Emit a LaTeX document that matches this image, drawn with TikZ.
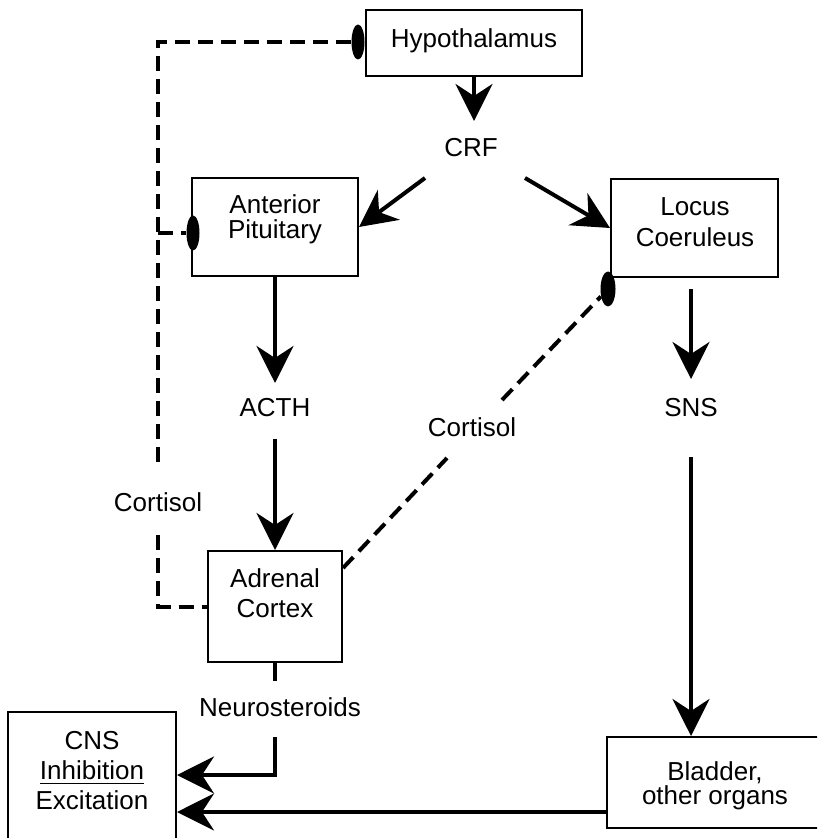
\documentclass[tikz,border=0pt]{standalone}
\usepackage{fontspec}
\setmainfont{Liberation Sans}
\usetikzlibrary{arrows.meta,shapes.geometric,calc}
\begin{document}
\begin{tikzpicture}[x=0.5pt,y=-0.5pt,
  box/.style={draw, line width=1pt, rectangle, inner sep=0pt},
  lbl/.style={font=\fontsize{13}{15}\selectfont, align=center, inner sep=0pt},
  arr/.style={line width=2pt, -{Stealth[length=18.5pt,width=18.5pt,inset=6pt]}},
  fb/.style={line width=2pt, dash pattern=on 7.5pt off 4pt},
  blob/.style={ellipse, fill=black, inner sep=0pt, minimum width=6.5pt, minimum height=17.5pt},
]
\useasboundingbox (0,0) rectangle (817,838);
\clip (0,0) rectangle (817,838);
\fill[white] (0,0) rectangle (817,838);

% boxes
\node[box, minimum width=108pt, minimum height=33pt] (hyp) at (474,43) {};
\node[box, minimum width=83pt, minimum height=49pt] (ant) at (275,227) {};
\node[box, minimum width=83.5pt, minimum height=49pt] (loc) at (694.5,228) {};
\node[box, minimum width=67pt, minimum height=55.5pt] (adr) at (275,606.5) {};
\node[box, minimum width=111.5pt, minimum height=45.5pt] (bla) at (718.5,782.5) {};
\node[box, minimum width=84pt, minimum height=74pt] (cns) at (92,786) {};

% texts
\node[lbl] (hypt) at (474,41) {Hypothalamus};
\node[lbl] (crf) at (471,148) {CRF};
\node[lbl, font=\fontsize{13}{12.5}\selectfont] (antt) at (275,219) {Anterior\\Pituitary};
\node[lbl, font=\fontsize{13}{15.5}\selectfont] (loct) at (695,222) {Locus\\Coeruleus};
\node[lbl] (acth) at (275,408) {ACTH};
\node[lbl] (sns) at (691,408) {SNS};
\node[lbl] (adrt) at (275,593) {Adrenal\\Cortex};
\node[lbl] (neu) at (280,707) {Neurosteroids};
\node[lbl] (cnst) at (92,771) {CNS\\\underline{Inhibition}\\Excitation};
\node[lbl, font=\fontsize{13}{11}\selectfont] (blat) at (715,786) {Bladder,\\other organs};
\node[lbl] (cortL) at (158,502) {Cortisol};
\node[lbl] (cortM) at (472,427) {Cortisol};

% solid arrows
\draw[arr] (hyp.south) -- ++(0,44);
\draw[arr] ($(crf.center)+(-46,30)$) -- (ant.east);
\draw[arr] ($(crf.center)+(54,30)$) -- (loc.west);
\draw[arr] (ant.south) -- ++(0,106);
\draw[arr] ($(acth.center)+(0,31)$) -- (adr.north);
\draw[arr] ($(loc.south)+(-3.5,11)$) -- ++(0,90);
\draw[arr] ($(sns.center)+(0,49)$) -- (sns |- bla.north);
\draw[line width=2pt] (adr.south) -- ++(0,18);
\draw[arr] ($(neu.center)+(-5,30)$) |- ([yshift=5.5pt]cns.east);
\draw[arr] ([yshift=-14.75pt]bla.west) -- ([yshift=-13pt]cns.east);

% inhibitory feedback
\node[blob] (e1) at (358,42) {};
\node[blob] (e2) at (193,233) {};
\node[blob, minimum width=7.5pt] (e3) at (608,289) {};
\draw[fb] (e1) -| ($(cortL.center)+(0,-35)$);
\draw[fb] ($(cortL.center)+(0,33)$) |- (adr.west);
\draw[fb] (e2 -| cortL) -- (e2);
\draw[fb] ([yshift=19.25pt]adr.east) -- ($(cortM.center)+(-25,31)$);
\draw[fb] ($(cortM.center)+(30,-27)$) -- (e3);
\end{tikzpicture}
\end{document}
